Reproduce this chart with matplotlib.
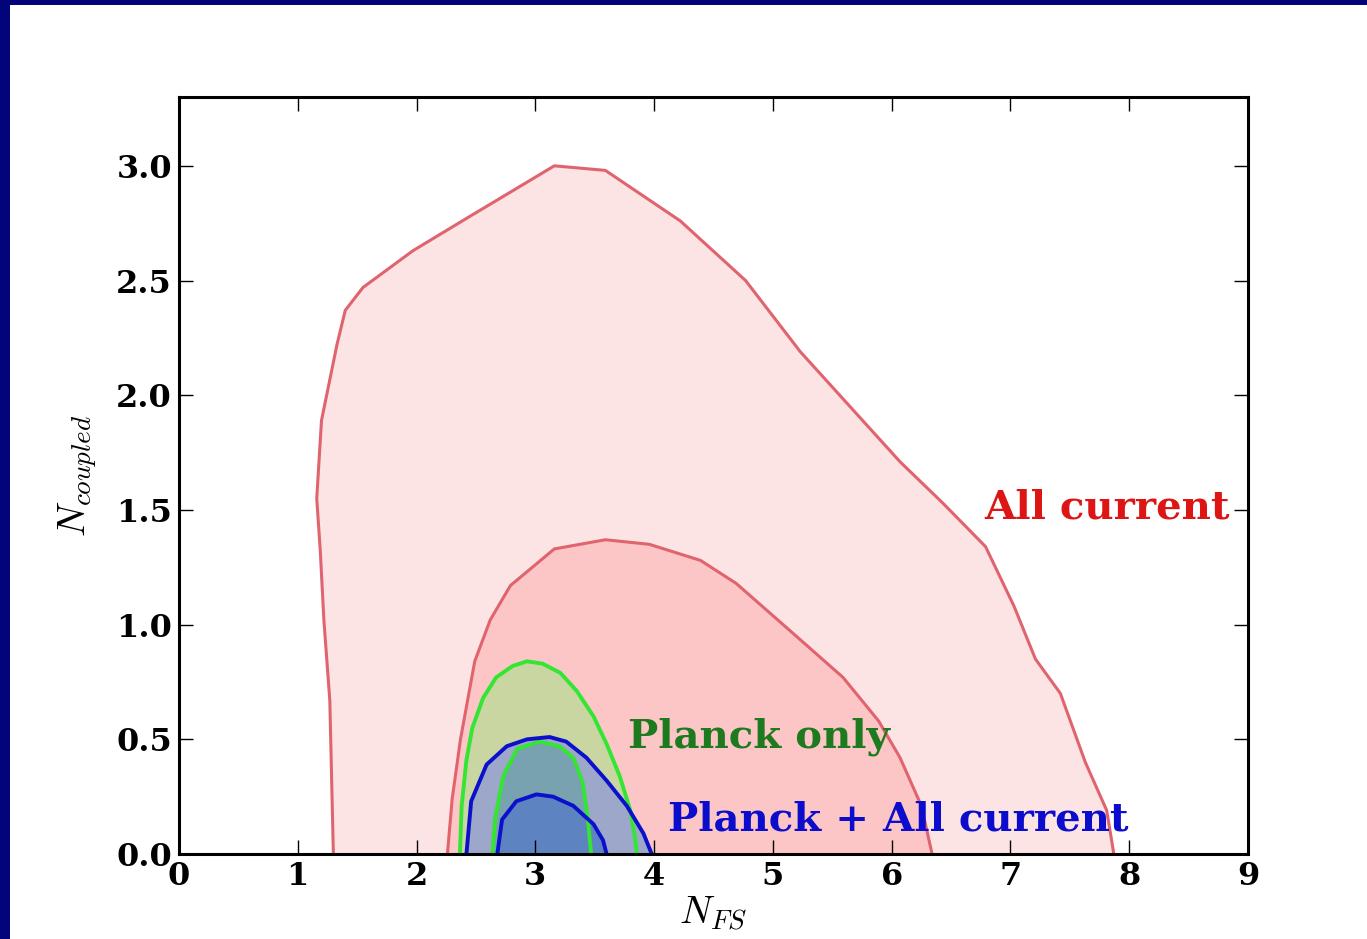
import matplotlib.pyplot as plt
from matplotlib.patches import Rectangle

plt.rcParams['mathtext.fontset'] = 'cm'
plt.rcParams['font.family'] = 'DejaVu Serif'

# contour boundaries in (N_FS, N_coupled)
all2_x = [1.30, 1.27, 1.22, 1.19, 1.16, 1.20, 1.33, 1.40, 1.55, 1.97, 2.45, 2.87, 3.16, 3.59,
          4.22, 4.77, 5.23, 6.07, 6.43, 6.79, 7.03, 7.21, 7.42, 7.63, 7.81, 7.87]
all2_y = [0.00, 0.67, 1.02, 1.32, 1.55, 1.89, 2.22, 2.37, 2.47, 2.63, 2.78, 2.91, 3.00, 2.98,
          2.76, 2.50, 2.19, 1.71, 1.53, 1.34, 1.08, 0.85, 0.70, 0.40, 0.19, 0.00]

all1_x = [2.26, 2.30, 2.37, 2.49, 2.62, 2.79, 3.16, 3.59, 3.96, 4.39, 4.69, 5.13, 5.59, 5.89,
          6.07, 6.25, 6.34]
all1_y = [0.00, 0.24, 0.50, 0.84, 1.02, 1.17, 1.33, 1.37, 1.35, 1.28, 1.18, 0.98, 0.77, 0.58,
          0.42, 0.21, 0.00]

planck2_x = [2.365, 2.38, 2.42, 2.47, 2.56, 2.67, 2.81, 2.93, 3.06, 3.21, 3.35, 3.49, 3.60,
             3.71, 3.80, 3.84, 3.855]
planck2_y = [0.00, 0.21, 0.41, 0.55, 0.68, 0.77, 0.82, 0.84, 0.83, 0.79, 0.71, 0.60, 0.48,
             0.34, 0.19, 0.07, 0.00]

planck1_x = [2.64, 2.66, 2.73, 2.85, 3.04, 3.20, 3.32, 3.40, 3.44, 3.47]
planck1_y = [0.00, 0.15, 0.34, 0.46, 0.49, 0.47, 0.42, 0.31, 0.16, 0.00]

comb2_x = [2.42, 2.46, 2.59, 2.76, 2.93, 3.12, 3.26, 3.43, 3.60, 3.77, 3.91, 3.98]
comb2_y = [0.00, 0.23, 0.39, 0.47, 0.50, 0.51, 0.49, 0.42, 0.32, 0.21, 0.09, 0.00]

comb1_x = [2.68, 2.72, 2.84, 3.01, 3.15, 3.32, 3.49, 3.57, 3.60]
comb1_y = [0.00, 0.15, 0.23, 0.26, 0.25, 0.21, 0.13, 0.06, 0.00]

x_ticks = [0, 1, 2, 3, 4, 5, 6, 7, 8, 9]
y_ticks = [0.0, 0.5, 1.0, 1.5, 2.0, 2.5, 3.0]

fig = plt.figure(figsize=(13.67, 9.39), dpi=100, facecolor='#03037a')
# white slide area, navy strip left and top
fig.patches.append(Rectangle((10 / 1367, 0), 1, 1 - 5 / 939, transform=fig.transFigure,
                             facecolor='white', edgecolor='none', zorder=-5))
ax = fig.add_axes([0.1309, 0.0905, 0.7821, 0.8062])

red = '#e0646e'
ax.fill(all2_x, all2_y, color='#fde4e4', lw=0)
ax.plot(all2_x, all2_y, color=red, lw=2.2)
ax.fill(all1_x, all1_y, color='#fcc6c6', lw=0)
ax.plot(all1_x, all1_y, color=red, lw=2.2)

ax.fill(planck2_x, planck2_y, color='#c9d6a2', lw=0)
ax.fill(comb2_x, comb2_y, color='#9ca7c9', lw=0)
ax.fill(planck1_x, planck1_y, color='#78a2b0', lw=0)
ax.plot(planck2_x, planck2_y, color='#33e633', lw=2.8)
ax.plot(planck1_x, planck1_y, color='#33e633', lw=2.8)
ax.fill(comb1_x, comb1_y, color='#5a80c2', alpha=0.9, lw=0)
ax.plot(comb2_x, comb2_y, color='#0a10cc', lw=2.8)
ax.plot(comb1_x, comb1_y, color='#0a10cc', lw=2.8)

bold = dict(fontweight='bold', fontsize=29, va='center', ha='left')
ax.text(6.78, 1.51, 'All current', color='#dd1515', **bold)
ax.text(3.78, 0.51, 'Planck only', color='#1e7a1e', **bold)
ax.text(4.12, 0.15, 'Planck + All current', color='#0c0ccc', **bold)

ax.set_xlim(0, 9)
ax.set_ylim(0, 3.3)
ax.set_xticks(x_ticks)
ax.set_yticks(y_ticks)
ax.set_xticklabels([str(t) for t in x_ticks])
ax.set_yticklabels(['%.1f' % t for t in y_ticks])
ax.tick_params(direction='in', length=10, width=1, top=True, right=True,
               labelsize=23, pad=5)
for lab in ax.get_xticklabels() + ax.get_yticklabels():
    lab.set_fontweight('bold')
for s in ax.spines.values():
    s.set_linewidth(2.2)

ax.set_xlabel(r'$N_{FS}$', fontsize=28, labelpad=2)
ax.set_ylabel(r'$N_{coupled}$', fontsize=28, labelpad=12)

fig.savefig('out.png', dpi=100, facecolor=fig.get_facecolor())
